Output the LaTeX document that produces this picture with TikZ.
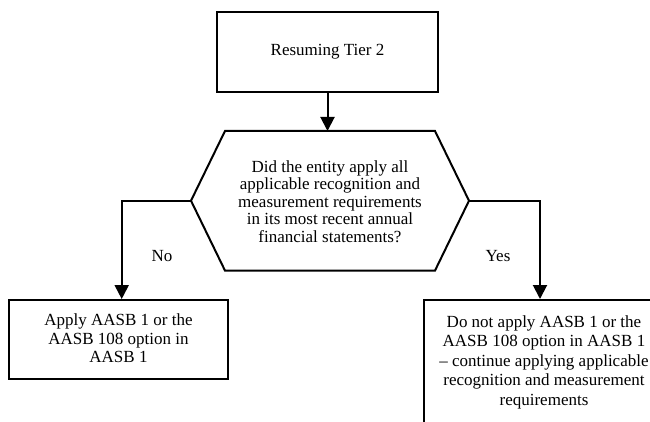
\documentclass[tikz,border=0pt]{standalone}
\usepackage{fontspec}
\setmainfont{Liberation Serif}
\usetikzlibrary{arrows.meta}
\begin{document}
\begin{tikzpicture}[x=1pt,y=-1pt,
  txt/.style={font=\fontsize{17}{18.5}\selectfont,align=center,inner sep=0pt},
  boxnode/.style={txt,draw,line width=2pt,rectangle},
  flow/.style={line width=2pt,-{Triangle[length=14pt,width=14pt]}},
  edge/.style={line width=2pt,line join=miter}]
\useasboundingbox (0,0) rectangle (650,422);
\clip (0,0) rectangle (650,422);
% top box
\node[boxnode,minimum width=221.6pt,minimum height=80pt] (top) at (327.5,51.7) {Resuming Tier 2};
% hexagon decision
\coordinate (qT1) at (225,131);
\coordinate (qT2) at (435,131);
\coordinate (qR) at (469,200.7);
\coordinate (qB2) at (435,270.6);
\coordinate (qB1) at (225,270.6);
\coordinate (qL) at (191,200.7);
\draw[edge] (qT1) -- (qT2) -- (qR) -- (qB2) -- (qB1) -- (qL) -- cycle;
\node[txt,font=\fontsize{17}{17.6}\selectfont] (q) at (330,201.5) {Did the entity apply all\\applicable recognition and\\measurement requirements\\in its most recent annual\\financial statements?};
% outcome boxes
\node[boxnode,minimum width=218.4pt,minimum height=79.3pt] (left) at (118.5,339.7) {Apply AASB 1 or the\\AASB 108 option in\\AASB 1\rule[-3pt]{0pt}{3pt}};
\node[boxnode,font=\fontsize{17}{19.5}\selectfont,minimum width=240pt,minimum height=124pt] (right) at (544,362) {Do not apply AASB 1 or the\\AASB 108 option in AASB 1\\– continue applying applicable\\recognition and measurement\\requirements};
% connectors
\coordinate (nocorner) at (121.7,200.7);
\coordinate (yescorner) at (540,200.7);
\draw[flow] (top.south) -- (top.south |- qT1);
\draw[flow] (qL) -- (nocorner) -- (nocorner |- left.north);
\draw[flow] (qR) -- (yescorner) -- (yescorner |- right.north);
% labels
\node[txt] (no) at (162,256) {No};
\node[txt] (yes) at (498,256) {Yes};
\end{tikzpicture}
\end{document}
